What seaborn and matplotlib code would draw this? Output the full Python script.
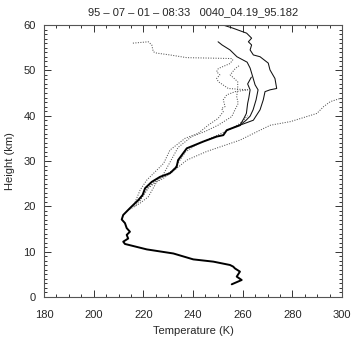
import matplotlib
matplotlib.use("Agg")
import matplotlib.pyplot as plt
from matplotlib.ticker import MultipleLocator
import seaborn as sns
import pandas as pd

sns.set_style("ticks")
plt.rcParams['font.family'] = ['Liberation Sans', 'DejaVu Sans']

title = "95 – 07 – 01 – 08:33   0040_04.19_95.182"
xlabel = "Temperature (K)"
ylabel = "Height (km)"
xticks = [180, 200, 220, 240, 260, 280, 300]
yticks = [0, 10, 20, 30, 40, 50, 60]

# Main lidar profile (lower part, shared by all solid curves)
main_h = [2.8, 3.75, 4.5, 5.6, 6.3, 6.7, 7.06, 7.8, 8.3, 9.6, 10.5, 11.7, 12.2, 12.9,
          13.7, 14.4, 15.2, 16.3, 17.1, 18.1, 19.6, 21.4, 22.5, 24.0, 25.4, 26.5,
          27.3, 28.7, 30.2, 32.8, 34.3, 35.4, 35.7, 36.8, 37.9]
main_t = [255.6, 259.6, 257.6, 258.9, 256.9, 256.2, 254.9, 248.2, 240.1, 232.1, 221.4,
          212.6, 211.9, 213.9, 213.3, 214.6, 213.3, 212.6, 211.3, 211.9, 214.6, 218.0,
          219.7, 220.7, 223.4, 226.7, 230.7, 233.4, 234.0, 237.5, 244.2, 249.6, 252.2,
          253.6, 258.9]

# Upper solid branches
s1_h = [60.0, 59.3, 58.2, 57.1, 56.3, 55.6, 54.5, 53.4, 53.0, 51.6, 50.1, 48.2, 46.0,
        45.7, 45.3, 43.5, 41.3, 40.2, 39.0, 37.9]
s1_t = [252.1, 256.1, 261.6, 263.6, 262.3, 263.6, 263.0, 264.3, 267.0, 270.3, 271.0,
        273.0, 273.7, 271.0, 269.0, 268.3, 267.0, 265.7, 264.3, 258.9]
s2_h = [56.3, 55.6, 54.5, 53.0, 51.8, 50.5, 48.3, 46.8, 45.7, 43.5, 41.3, 39.9, 39.0, 37.9]
s2_t = [250.1, 251.7, 254.9, 257.7, 261.8, 263.0, 264.2, 265.0, 266.2, 265.4, 264.2,
        263.0, 261.4, 258.9]
s3_h = [48.5, 47.0, 45.7, 44.0, 42.7, 40.5, 39.4, 37.9]
s3_t = [263.5, 262.0, 263.0, 262.5, 262.0, 261.5, 260.5, 258.9]

# Dotted comparison profiles
d1_h = [19.0, 20.7, 22.1, 25.4, 26.2, 27.6, 30.2, 32.1, 34.6, 36.8, 37.9, 38.7, 40.5,
        42.0, 43.1, 43.8]
d1_t = [213.5, 218.7, 222.0, 225.4, 228.1, 231.7, 237.5, 245.5, 258.9, 267.0, 271.2,
        279.3, 289.9, 292.6, 295.3, 299.3]
d2_h = [56.0, 56.3, 55.6, 54.1, 53.8, 53.4, 52.8, 52.7, 52.6, 52.3, 51.5, 50.4, 49.7,
        49.0, 48.2, 47.5, 46.0, 45.7, 45.3, 44.6, 43.5, 42.0, 41.6, 40.9, 39.4, 37.9,
        36.1, 35.0, 32.4, 29.5, 25.8, 23.6, 20.0]
d2_t = [215.8, 222.0, 223.4, 224.0, 225.4, 230.7, 237.5, 246.9, 255.6, 256.0, 254.9,
        250.2, 249.5, 250.8, 249.5, 250.2, 254.2, 262.0, 257.0, 253.6, 252.2, 252.9,
        251.5, 252.2, 250.1, 246.1, 242.1, 236.8, 230.7, 228.2, 221.4, 218.7, 216.0]
d3_h = [51.0, 50.4, 49.0, 47.5, 46.0, 44.2, 42.7, 41.3, 39.8, 37.9, 36.5, 35.4, 33.0,
        30.0, 27.0, 24.0, 21.0]
d3_t = [258.5, 257.0, 255.0, 258.0, 258.0, 257.6, 258.2, 256.9, 255.6, 250.1, 244.8,
        239.5, 234.0, 231.0, 228.0, 221.5, 218.5]
d4_h = [20.0, 22.0, 24.0, 26.0, 28.0, 30.0, 32.0, 34.0, 35.5, 37.0, 38.5, 40.0]
d4_t = [216.5, 219.5, 222.0, 226.5, 232.0, 234.5, 237.0, 242.5, 249.0, 255.0, 259.5, 262.0]

fig = plt.figure(figsize=(3.54, 3.38), dpi=100)
ax = fig.add_axes([0.1243, 0.1213, 0.8418, 0.8047])

def draw(h, t, ls, lw, color):
    df = pd.DataFrame({"T": t, "h": h})
    sns.lineplot(data=df, x="T", y="h", sort=False, estimator=None, ax=ax,
                 color=color, linestyle=ls, linewidth=lw)

for h, t in [(d1_h, d1_t), (d2_h, d2_t), (d3_h, d3_t), (d4_h, d4_t)]:
    draw(h, t, (0, (1, 1.4)), 0.75, "#555555")
draw(main_h, main_t, "-", 1.4, "black")
for h, t in [(s1_h, s1_t), (s2_h, s2_t), (s3_h, s3_t)]:
    draw(h, t, "-", 0.75, "#111111")

ax.set_xlim(180, 300)
ax.set_ylim(0, 60)
ax.set_xticks(xticks)
ax.set_yticks(yticks)
ax.set_xticklabels([str(v) for v in xticks])
ax.set_yticklabels([str(v) for v in yticks])
ax.xaxis.set_minor_locator(MultipleLocator(5))
ax.yaxis.set_minor_locator(MultipleLocator(1))
ax.tick_params(which="both", direction="in", top=True, right=True, color="#333333",
               labelsize=8, width=0.7)
ax.tick_params(axis="x", which="major", length=5, pad=9)
ax.tick_params(axis="y", which="major", length=5, pad=6)
ax.tick_params(which="minor", length=2.5)
for sp in ax.spines.values():
    sp.set_color("#555555")
    sp.set_linewidth(0.8)
ax.set_xlabel(xlabel, fontsize=8, labelpad=5)
ax.set_ylabel(ylabel, fontsize=8, labelpad=6)
ax.set_title(title, fontsize=8, pad=7)

fig.savefig("out.png", dpi=100)
